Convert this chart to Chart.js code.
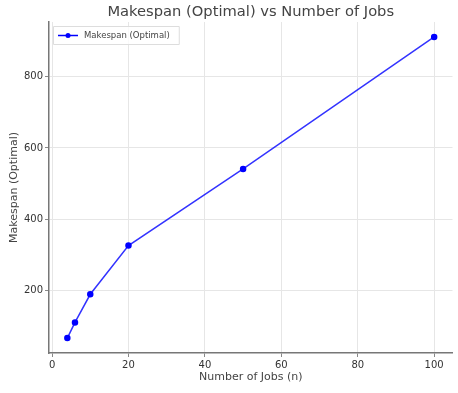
<!DOCTYPE html>
<html>
<head>
<meta charset="utf-8">
<script src="https://cdn.jsdelivr.net/npm/chart.js@4"></script>
<style>
  body { margin: 0; background: #fff; }
  #wrap { width: 458px; height: 393px; }
</style>
</head>
<body>
<div id="wrap"><canvas id="grafico"></canvas></div>
<script>
var jobs = [4, 6, 10, 20, 50, 100]
var makespan = [66, 110, 189, 326, 541, 912]
var xTicks = [0, 20, 40, 60, 80, 100]
var yTicks = [200, 400, 600, 800]

var fonte = 'DejaVu Sans, sans-serif'

// titulo e legenda desenhados a mao (legenda fica dentro do grafico)
var extras = {
    id: 'extras',
    afterDraw(chart) {
        var ctx = chart.ctx
        var area = chart.chartArea
        ctx.save()
        ctx.fillStyle = '#444'
        ctx.font = '14.7px ' + fonte
        ctx.textAlign = 'center'
        ctx.textBaseline = 'middle'
        ctx.fillText('Makespan (Optimal) vs Number of Jobs', (area.left + area.right) / 2, 12)

        var bx = area.left + 4, by = area.top + 4
        ctx.font = '8.5px ' + fonte
        var w = ctx.measureText('Makespan (Optimal)').width + 40
        ctx.fillStyle = 'rgba(255,255,255,0.8)'
        ctx.strokeStyle = '#ddd'
        ctx.lineWidth = 1
        ctx.beginPath()
        ctx.rect(bx + 0.5, by + 0.5, w, 18)
        ctx.fill()
        ctx.stroke()
        ctx.strokeStyle = 'blue'
        ctx.lineWidth = 1.5
        ctx.beginPath()
        ctx.moveTo(bx + 5, by + 9.5)
        ctx.lineTo(bx + 25, by + 9.5)
        ctx.stroke()
        ctx.fillStyle = 'blue'
        ctx.beginPath()
        ctx.arc(bx + 15, by + 9.5, 2.5, 0, Math.PI * 2)
        ctx.fill()
        ctx.fillStyle = '#444'
        ctx.textAlign = 'left'
        ctx.fillText('Makespan (Optimal)', bx + 31, by + 10)
        ctx.restore()
    }
}

new Chart(document.getElementById('grafico'), {
    type: 'line',
    data: {
        datasets: [{
            label: 'Makespan (Optimal)',
            data: jobs.map((j, i) => ({ x: j, y: makespan[i] })),
            borderColor: 'rgba(0,0,255,0.8)',
            backgroundColor: 'blue',
            pointBackgroundColor: 'blue',
            pointBorderColor: 'blue',
            pointRadius: 2.5,
            borderWidth: 1.5,
            tension: 0
        }]
    },
    options: {
        responsive: true,
        maintainAspectRatio: false,
        animation: false,
        layout: { padding: { top: 22, right: 5, left: 8, bottom: 9 } },
        plugins: {
            legend: { display: false },
            title: { display: false },
            tooltip: { enabled: false }
        },
        scales: {
            x: {
                type: 'linear',
                min: -0.8,
                max: 104.8,
                afterBuildTicks: (s) => { s.ticks = xTicks.map(v => ({ value: v })) },
                afterFit: (s) => { s.height = 31 },
                grid: { color: '#e6e6e6', drawTicks: true, tickLength: 4, tickColor: '#888' },
                border: { color: '#777', width: 1.5 },
                ticks: { color: '#333', font: { family: fonte, size: 10 }, padding: 2, maxRotation: 0 },
                title: { display: true, text: 'Number of Jobs (n)', color: '#444', font: { family: fonte, size: 11 }, padding: { top: 2, bottom: 0 } }
            },
            y: {
                min: 24,
                max: 954,
                afterBuildTicks: (s) => { s.ticks = yTicks.map(v => ({ value: v })) },
                afterFit: (s) => { s.width = 41 },
                grid: { color: '#e6e6e6', drawTicks: true, tickLength: 4, tickColor: '#888' },
                border: { color: '#777', width: 1.5 },
                ticks: { color: '#333', font: { family: fonte, size: 10 }, padding: 2 },
                title: { display: true, text: 'Makespan (Optimal)', color: '#444', font: { family: fonte, size: 11 }, padding: { top: 0, bottom: 3 } }
            }
        }
    },
    plugins: [extras]
})
</script>
</body>
</html>
